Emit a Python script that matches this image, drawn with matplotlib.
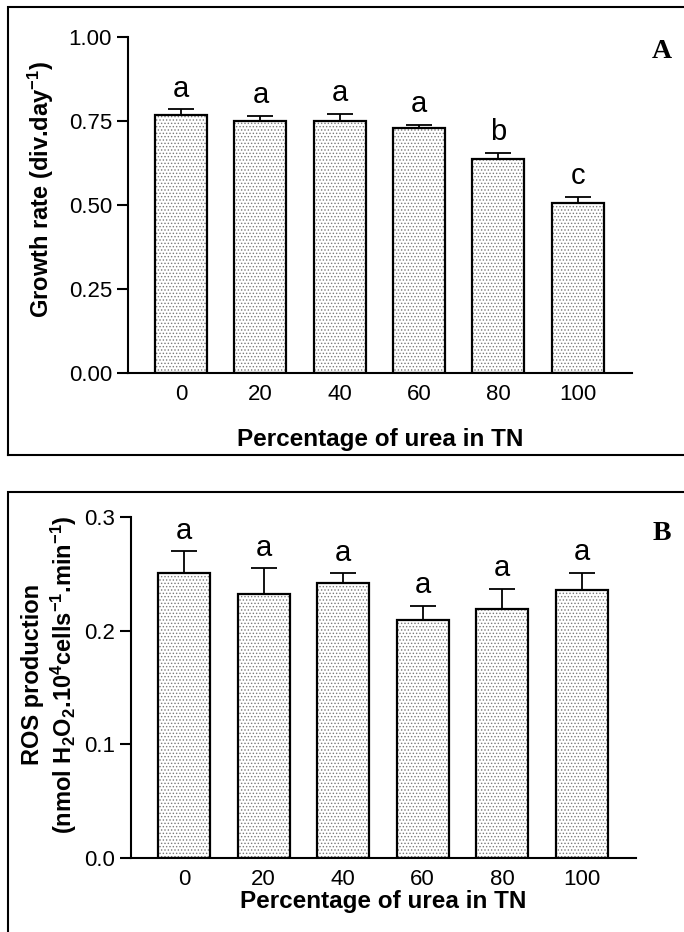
import matplotlib

matplotlib.use("Agg")
import matplotlib.pyplot as plt
import numpy as np
from matplotlib.lines import Line2D

CATEGORIES = ["0", "20", "40", "60", "80", "100"]

GROWTH_MEAN = [0.767, 0.749, 0.749, 0.729, 0.637, 0.507]
GROWTH_SEM = [0.018, 0.016, 0.022, 0.010, 0.018, 0.018]
GROWTH_GROUPS = ["a", "a", "a", "a", "b", "c"]
GROWTH_TICKS = [0.0, 0.25, 0.50, 0.75, 1.00]

ROS_MEAN = [0.251, 0.232, 0.242, 0.209, 0.219, 0.236]
ROS_SEM = [0.019, 0.023, 0.0085, 0.013, 0.018, 0.015]
ROS_GROUPS = ["a", "a", "a", "a", "a", "a"]
ROS_TICKS = [0.0, 0.1, 0.2, 0.3]

W, H = 684, 932

plt.rcParams.update(
    {
        "font.family": "Liberation Sans",
        "mathtext.fontset": "custom",
        "mathtext.rm": "Liberation Sans:bold",
        "mathtext.default": "rm",
        "hatch.linewidth": 0.6,
        "axes.linewidth": 1.5,
    }
)
NARROW = ["Liberation Sans Narrow", "Liberation Sans"]


def box(left, top, right, bottom):
    """Axes rectangle from pixel edges."""
    return [left / W, 1 - bottom / H, (right - left) / W, (bottom - top) / H]


def frame(fig, left, top, bottom=None):
    xs = [left / W, left / W, 1.02]
    ys = [(1 - bottom / H) if bottom else -0.02, 1 - top / H, 1 - top / H]
    fig.add_artist(Line2D(xs, ys, color="black", lw=1.5, solid_joinstyle="miter"))
    if bottom:
        fig.add_artist(Line2D([left / W, 1.02], [1 - bottom / H] * 2, color="black", lw=1.5))


def panel(ax, means, sems, groups, ticks, fmt, ylabel, label_xy, xlabel_y):
    x = np.arange(len(CATEGORIES))
    means = np.asarray(means)
    sems = np.asarray(sems)
    ax.bar(x, means, width=0.655, color="white", edgecolor="#7a7a7a", hatch=".....", lw=0, zorder=2)
    ax.bar(x, means, width=0.655, fill=False, edgecolor="black", lw=1.6, zorder=3)
    ax.errorbar(
        x, means, yerr=[np.zeros_like(sems), sems], fmt="none",
        ecolor="black", elinewidth=1.3, capsize=9.5, capthick=1.3, zorder=4,
    )
    for xi, top, g in zip(x, means + sems, groups):
        ax.annotate(g, xy=(xi, top), xytext=(0, 9), textcoords="offset points",
                    ha="center", va="baseline", fontsize=21, family=NARROW)

    ax.set_xlim(-0.67, 5.685)
    ax.set_ylim(ticks[0], ticks[-1])
    ax.set_xticks(x)
    ax.set_xticklabels(CATEGORIES)
    ax.set_yticks(ticks)
    ax.set_yticklabels([fmt % t for t in ticks])
    ax.tick_params(axis="x", length=0, pad=8, labelsize=16)
    ax.tick_params(axis="y", length=8, width=1.5, pad=3.5, labelsize=16)
    for side in ("top", "right"):
        ax.spines[side].set_visible(False)
    ax.set_ylabel(ylabel, fontsize=17, fontweight="bold", linespacing=1.2,
                  va="center", ha="center")
    ax.yaxis.set_label_coords(*label_xy)
    ax.set_xlabel("Percentage of urea in TN", fontsize=17.5, fontweight="bold", va="center")
    ax.xaxis.set_label_coords(0.5, xlabel_y)


def main() -> None:
    fig = plt.figure(figsize=(W / 100, H / 100), dpi=100)

    ax_a = fig.add_axes(box(128, 37, 632, 373))
    panel(ax_a, GROWTH_MEAN, GROWTH_SEM, GROWTH_GROUPS, GROWTH_TICKS, "%.2f",
          r"Growth rate (div.day$^{-1}$)", (-0.173, 0.545), -0.198)

    ax_b = fig.add_axes(box(131, 517, 636, 858))
    panel(ax_b, ROS_MEAN, ROS_SEM, ROS_GROUPS, ROS_TICKS, "%.1f",
          "ROS production\n" r"(nmol H$_2$O$_2$.10$^4$cells$^{-1}$.min$^{-1}$)",
          (-0.16, 0.537), -0.129)

    frame(fig, 8, 7, 455)
    frame(fig, 8, 492)

    fig.text(662 / W, 1 - 51 / H, "A", family="Liberation Serif", fontweight="bold",
             fontsize=20, ha="center", va="center")
    fig.text(662 / W, 1 - 533 / H, "B", family="Liberation Serif", fontweight="bold",
             fontsize=20, ha="center", va="center")

    fig.savefig("out.png", dpi=100)


if __name__ == "__main__":
    main()
